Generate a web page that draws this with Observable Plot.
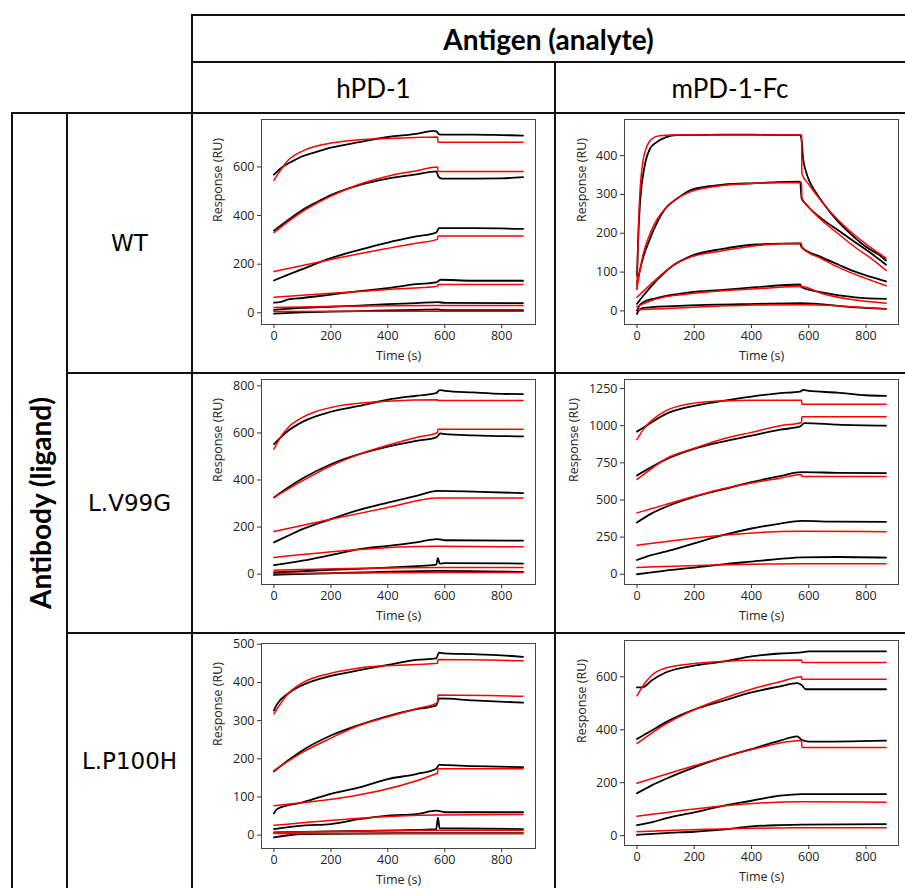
<!DOCTYPE html>
<html>
<head>
<meta charset="utf-8">
<script src="https://cdn.jsdelivr.net/npm/d3@7"></script>
<script src="https://cdn.jsdelivr.net/npm/@observablehq/plot@0.6"></script>
<style>
  body { margin: 0; background: #fff; }
  #root { position: relative; width: 905px; height: 888px; overflow: hidden; background: #fff; }
  .ln { position: absolute; background: #111; }
  .lbl { position: absolute; transform: translate(-50%, -50%); white-space: nowrap; color: #000; line-height: 1; }
  .hdr { font-family: Lato, sans-serif; font-size: 26px; }
  .bold { font-family: Lato, sans-serif; font-weight: 700; font-size: 28px; }
  .row { font-family: "DejaVu Sans", sans-serif; font-size: 23px; }
  .plot { position: absolute; }
</style>
</head>
<body>
<div id="root"></div>
<script>
// ---------- table labels ----------
const antigenTitle = "Antigen (analyte)";
const antibodyTitle = "Antibody (ligand)";
const antigens = ["hPD-1", "mPD-1-Fc"];
const antibodies = ["WT", "L.V99G", "L.P100H"];
const xTicks = [0, 200, 400, 600, 800];
const xLabel = "Time (s)";
const yLabel = "Response (RU)";

// ---------- data: [time (s), response (RU)] ----------
// WT / hPD-1
const wtH_black = [
  [[0,568],[10,580],[30,600],[60,620],[100,644],[150,662],[200,679],[300,702],[400,723],[500,736],[560,748],[572,745],[580,734],[600,733],[700,733],[800,731],[875,729]],
  [[0,338],[50,382],[100,423],[150,455],[200,484],[300,525],[400,552],[500,569],[570,582],[578,560],[590,552],[700,552],[800,553],[875,558]],
  [[0,133],[50,157],[100,180],[200,225],[300,259],[400,289],[500,314],[570,330],[580,348],[700,348],[875,345]],
  [[0,42],[25,45],[50,55],[100,61],[200,75],[300,89],[400,102],[500,118],[570,125],[585,136],[700,132],[875,132]],
  [[0,12],[100,20],[200,25],[300,30],[400,36],[500,40],[575,44],[600,41],[875,40]],
  [[0,-3],[100,2],[200,5],[300,7],[400,10],[500,12],[575,14],[600,11],[875,11]]
];
const wtH_red = [
  [[0,545],[25,590],[50,627],[100,665],[150,686],[200,698],[300,712],[400,717],[500,721],[575,723],[576,701],[875,701]],
  [[0,330],[100,416],[200,480],[300,529],[400,562],[500,584],[575,600],[576,581],[875,581]],
  [[0,170],[100,195],[200,219],[300,243],[400,265],[500,286],[575,303],[576,316],[875,316]],
  [[0,64],[200,80],[400,96],[575,109],[576,116],[875,116]],
  [[0,22],[575,30],[875,30]],
  [[0,5],[575,7],[875,7]]
];
// WT / mPD-1-Fc
const wtM_black = [
  [[0,91],[5,200],[10,270],[15,315],[22,353],[30,385],[45,417],[68,434],[100,447],[140,453],[200,453],[300,454],[400,454],[500,453],[570,453],[575,440],[580,395],[590,360],[600,338],[625,305],[650,278],[700,232],[750,196],[800,165],[850,142],[870,130]],
  [[0,70],[10,104],[22,138],[45,185],[68,224],[103,267],[138,288],[184,310],[242,320],[300,325],[415,329],[570,333],[575,290],[590,275],[600,267],[646,237],[704,207],[762,177],[820,147],[870,119]],
  [[0,18],[22,39],[68,78],[126,117],[184,140],[300,160],[415,171],[570,174],[575,164],[646,138],[704,119],[762,101],[820,87],[870,76]],
  [[0,1],[10,15],[22,22],[68,33],[184,48],[300,54],[415,61],[570,68],[575,61],[646,48],[762,35],[870,31]],
  [[0,-8],[5,0],[22,8],[184,14],[415,18],[570,20],[762,9],[870,5]]
];
const wtM_red = [
  [[0,55],[3,150],[6,230],[10,300],[15,350],[22,390],[30,415],[45,438],[60,447],[80,451],[120,453],[575,453],[576,353],[600,326],[650,277],[700,236],[750,202],[800,172],[850,146],[870,136]],
  [[0,58],[22,147],[45,198],[68,233],[103,267],[184,306],[300,323],[415,329],[575,331],[576,291],[600,267],[646,233],[704,198],[762,164],[820,134],[870,104]],
  [[0,35],[68,82],[126,117],[184,138],[300,155],[415,168],[575,174],[576,164],[646,134],[704,112],[762,94],[820,78],[870,65]],
  [[0,11],[68,31],[184,44],[300,52],[415,57],[575,63],[646,45],[762,28],[870,20]],
  [[0,3],[184,9],[415,15],[575,16],[870,5]]
];
// L.V99G / hPD-1
const v99H_black = [
  [[0,552],[50,609],[100,647],[200,690],[300,715],[400,741],[500,758],[570,769],[582,782],[600,779],[700,772],[800,766],[875,765]],
  [[0,326],[50,368],[100,406],[200,467],[300,510],[400,542],[500,566],[570,581],[585,598],[600,595],[700,590],[875,585]],
  [[0,135],[50,163],[100,191],[200,234],[300,273],[400,304],[500,333],[575,354],[700,351],[875,344]],
  [[0,38],[100,57],[200,81],[300,106],[400,120],[500,135],[575,149],[600,144],[875,142]],
  [[0,7],[200,18],[400,28],[570,40],[576,68],[582,45],[600,47],[875,45]],
  [[0,-3],[300,7],[575,14],[875,10]]
];
const v99H_red = [
  [[0,531],[25,585],[50,623],[100,666],[150,692],[200,708],[300,726],[400,735],[575,741],[576,738],[875,738]],
  [[0,326],[100,396],[200,460],[300,510],[400,548],[500,581],[575,602],[576,616],[875,616]],
  [[0,181],[200,233],[400,283],[575,323],[875,323]],
  [[0,71],[575,118],[875,116]],
  [[0,17],[575,28],[875,28]],
  [[0,3],[575,7],[875,7]]
];
// L.V99G / mPD-1-Fc
const v99M_black = [
  [[0,960],[25,989],[50,1022],[100,1078],[200,1134],[300,1167],[400,1196],[500,1219],[570,1230],[580,1241],[600,1234],[700,1223],[800,1205],[870,1201]],
  [[0,665],[50,721],[100,772],[200,844],[300,893],[400,933],[500,973],[570,995],[585,1018],[700,1007],[870,1000]],
  [[0,348],[50,408],[100,453],[200,520],[300,571],[400,620],[500,661],[575,687],[700,683],[870,681]],
  [[0,96],[50,129],[100,152],[200,208],[300,263],[400,308],[500,341],[575,359],[700,354],[870,353]],
  [[0,0],[100,25],[200,45],[300,67],[400,85],[500,103],[575,114],[700,116],[870,112]]
];
const v99M_red = [
  [[0,906],[25,982],[50,1033],[100,1100],[150,1134],[200,1152],[300,1167],[400,1172],[575,1172],[576,1145],[870,1145]],
  [[0,638],[50,710],[100,777],[200,848],[300,911],[400,955],[500,1000],[575,1022],[576,1060],[870,1060]],
  [[0,413],[100,469],[200,525],[300,576],[400,614],[500,647],[575,672],[576,658],[870,658]],
  [[0,196],[575,290],[870,286]],
  [[0,45],[575,71],[870,71]]
];
// L.P100H / hPD-1
const p100H_black = [
  [[0,327],[10,342],[50,371],[100,393],[200,417],[300,432],[400,446],[500,459],[570,463],[580,478],[600,476],[700,474],[800,471],[875,467]],
  [[0,167],[50,196],[100,222],[200,261],[300,289],[400,312],[500,330],[570,340],[580,358],[700,353],[875,347]],
  [[0,57],[10,68],[100,86],[200,108],[300,125],[400,147],[500,160],[570,174],[580,184],[700,181],[875,178]],
  [[0,16],[100,25],[200,29],[300,42],[400,51],[500,55],[570,64],[600,60],[875,60]],
  [[0,7],[300,11],[570,16],[576,46],[582,18],[875,16]],
  [[0,-6],[100,3],[500,5],[875,5]]
];
const p100H_red = [
  [[0,318],[50,371],[100,399],[200,424],[300,438],[400,444],[500,447],[575,450],[576,460],[875,457]],
  [[0,169],[100,217],[200,254],[300,288],[400,310],[500,331],[575,347],[576,367],[875,364]],
  [[0,77],[575,162],[576,174],[875,174]],
  [[0,26],[575,53],[875,54]],
  [[0,7],[575,13],[875,13]],
  [[0,4],[875,4]]
];
// L.P100H / mPD-1-Fc
const p100M_black = [
  [[0,560],[20,560],[50,585],[100,616],[200,642],[300,657],[400,677],[500,688],[575,692],[600,696],[700,696],[870,696]],
  [[0,365],[50,396],[100,428],[200,476],[300,509],[400,541],[500,564],[560,576],[575,569],[590,553],[700,553],[870,553]],
  [[0,160],[50,189],[100,214],[200,258],[300,296],[400,327],[500,359],[560,375],[575,362],[600,355],[870,359]],
  [[0,40],[50,50],[100,65],[200,88],[300,113],[400,132],[500,151],[575,157],[700,157],[870,157]],
  [[0,3],[100,10],[200,15],[300,23],[400,35],[500,40],[575,42],[870,44]]
];
const p100M_red = [
  [[0,528],[25,572],[50,604],[100,633],[200,650],[300,658],[400,662],[575,663],[576,654],[870,654]],
  [[0,348],[100,421],[200,476],[300,518],[400,553],[500,581],[575,600],[576,591],[870,591]],
  [[0,198],[200,264],[400,325],[575,359],[576,333],[870,333]],
  [[0,73],[575,128],[870,126]],
  [[0,15],[575,30],[870,30]]
];

// y tick values per panel
const wtH_yTicks = [0, 200, 400, 600];
const wtM_yTicks = [0, 100, 200, 300, 400];
const v99H_yTicks = [0, 200, 400, 600, 800];
const v99M_yTicks = [0, 250, 500, 750, 1000, 1250];
const p100H_yTicks = [0, 100, 200, 300, 400, 500];
const p100M_yTicks = [0, 200, 400, 600];

// ---------- layout ----------
const root = document.getElementById("root");
function line(x, y, w, h) {
  const d = document.createElement("div");
  d.className = "ln";
  Object.assign(d.style, {left: x + "px", top: y + "px", width: w + "px", height: h + "px"});
  root.appendChild(d);
}
function label(text, cls, x, y, rot) {
  const d = document.createElement("div");
  d.className = "lbl " + cls;
  d.textContent = text;
  d.style.left = x + "px";
  d.style.top = y + "px";
  if (rot) d.style.transform = "translate(-50%, -50%) rotate(" + rot + "deg)";
  root.appendChild(d);
}
// table lines
line(191, 14, 714, 2);
line(191, 61, 714, 2);
line(11, 112, 894, 2);
line(66, 372, 839, 2);
line(66, 632, 839, 2);
line(191, 14, 2, 874);
line(554, 61, 2, 827);
line(11, 112, 2, 776);
line(66, 112, 2, 776);

label(antigenTitle, "bold", 548.5, 39);
label(antigens[0], "hdr", 373.5, 88);
label(antigens[1], "hdr", 730, 88);
label(antibodies[0], "row", 129.5, 243);
label(antibodies[1], "row", 129.5, 503);
label(antibodies[2], "row", 129.5, 761);
label(antibodyTitle, "bold", 39.5, 503, -90);

const FONT = "'Open Sans', sans-serif";
function panel({black, red, yDomain, yTicks, xDomain, left, top, ylabDx}) {
  const W = 274, H = 205, ml = 70, mr = 6, mt = 6, mb = 44;
  const p = Plot.plot({
    width: W + ml + mr, height: H + mt + mb,
    marginLeft: ml, marginRight: mr, marginTop: mt, marginBottom: mb,
    style: {fontFamily: FONT, fontSize: "12.5px", color: "#222", background: "transparent", overflow: "visible"},
    x: {domain: xDomain},
    y: {domain: yDomain},
    marks: [
      ...black.map(c => Plot.line(c, {stroke: "#000", strokeWidth: 1.8, curve: "monotone-x"})),
      ...red.map(c => Plot.line(c, {stroke: "#ff0000", strokeWidth: 1.5, curve: "monotone-x"})),
      Plot.frame({stroke: "#444", strokeWidth: 1}),
      Plot.axisX({ticks: xTicks, tickSize: 4, tickPadding: 3, label: null, stroke: "#333", fontFamily: FONT, fontSize: 12.5, tickFormat: d => String(d)}),
      Plot.axisY({ticks: yTicks, tickSize: 4, tickPadding: 3, label: null, stroke: "#333", fontFamily: FONT, fontSize: 12.5, tickFormat: d => String(d)}),
      Plot.text([xLabel], {frameAnchor: "bottom", dy: 35, fontSize: 12.5, fontFamily: FONT, fill: "#222"}),
      Plot.text([yLabel], {frameAnchor: "left", dx: ylabDx, rotate: -90, fontSize: 12.5, fontFamily: FONT, fill: "#222"})
    ]
  });
  p.classList.add("plot");
  p.style.left = (left - ml) + "px";
  p.style.top = (top - mt) + "px";
  root.appendChild(p);
}

const hX = [-43.75, 918.75];
const mX = [-43.5, 913.5];
panel({black: wtH_black, red: wtH_red, yDomain: [-48, 795], yTicks: wtH_yTicks, xDomain: hX, left: 261, top: 119, ylabDx: -44});
panel({black: wtM_black, red: wtM_red, yDomain: [-35, 493], yTicks: wtM_yTicks, xDomain: mX, left: 624, top: 119, ylabDx: -43});
panel({black: v99H_black, red: v99H_red, yDomain: [-44, 827], yTicks: v99H_yTicks, xDomain: hX, left: 261, top: 379, ylabDx: -44});
panel({black: v99M_black, red: v99M_red, yDomain: [-69, 1311], yTicks: v99M_yTicks, xDomain: mX, left: 624, top: 379, ylabDx: -51});
panel({black: p100H_black, red: p100H_red, yDomain: [-35, 502], yTicks: p100H_yTicks, xDomain: hX, left: 261, top: 643, ylabDx: -44});
panel({black: p100M_black, red: p100M_red, yDomain: [-37, 737], yTicks: p100M_yTicks, xDomain: mX, left: 624, top: 640, ylabDx: -43});
</script>
</body>
</html>
